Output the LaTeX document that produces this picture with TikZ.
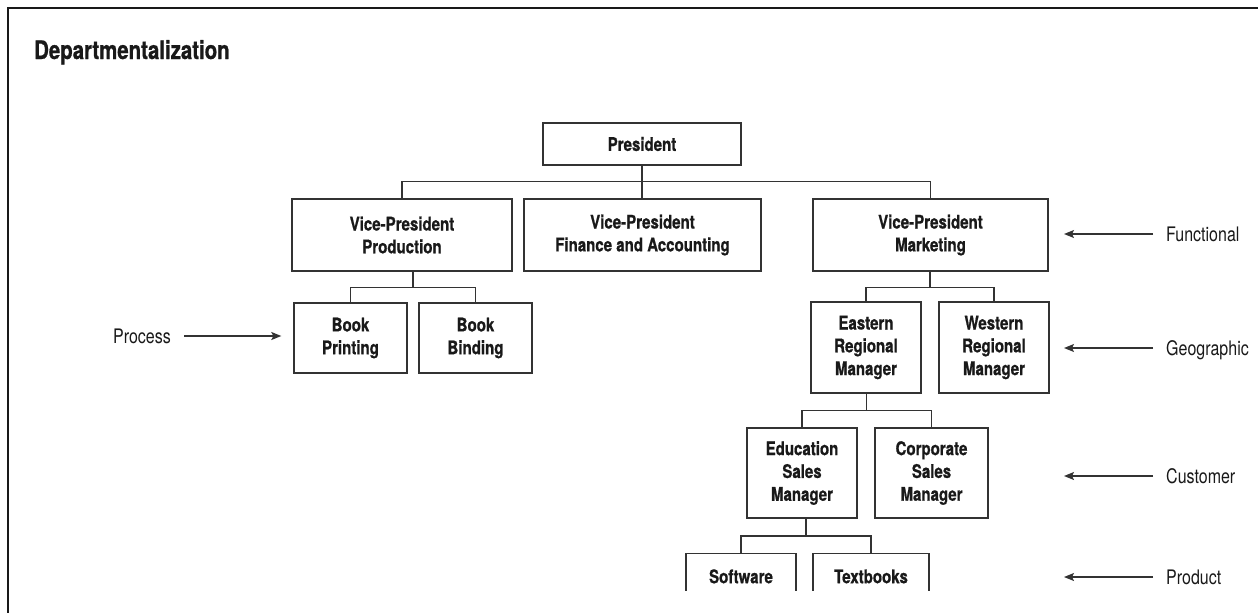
\documentclass[tikz,border=0pt]{standalone}
\usepackage{fontspec}
\setmainfont{TeX Gyre Heros}[FakeStretch=0.80, BoldFeatures={FakeBold=0.8}]
\usetikzlibrary{arrows.meta,calc}

\begin{document}
\begin{tikzpicture}[x=1pt, y=-1pt,
    box/.style={draw=black!80, line width=1.4pt, align=center, inner sep=0pt,
      text=black!90, font=\fontsize{18.8}{22.8}\selectfont\bfseries},
    link/.style={draw=black!80, line width=1.3pt},
    lab/.style={inner xsep=13pt, inner ysep=0pt, text height=14pt, text depth=0pt,
      text=black!90, font=\fontsize{20}{24}\selectfont},
    arr/.style={link, -{Stealth[length=10pt, width=8pt, inset=2pt]}}]

  \useasboundingbox (0,0) rectangle (1258,613);

  % Cadre
  \draw[line width=2.6pt, black!90] (1258,8) -- (8,8) -- (8,613);

  % Titre
  \node[anchor=base west, inner sep=0pt, text=black!90,
        font=\fontsize{25.5}{30}\selectfont\bfseries] (title) at (34,59) {Departmentalization};

  % Niveau 1 et 2
  \node[box, minimum width=198, minimum height=42] (pres) at (642,144) {President};
  \node[box, minimum width=220, minimum height=72] (vpprod) at (402,235) {Vice-President\\Production};
  \node[box, minimum width=237, minimum height=72] (vpfin) at (642.5,235) {Vice-President\\Finance and Accounting};
  \node[box, minimum width=235, minimum height=72] (vpmkt) at (930.5,235) {Vice-President\\Marketing};

  % Production
  \node[box, minimum width=113, minimum height=70] (print) at (350.5,338) {Book\\Printing};
  \node[box, minimum width=113, minimum height=70] (bind) at (475.5,338) {Book\\Binding};

  % Marketing
  \node[box, minimum width=110, minimum height=91] (east) at (866,347.5) {Eastern\\Regional\\Manager};
  \node[box, minimum width=110, minimum height=91] (west) at (994,347.5) {Western\\Regional\\Manager};
  \node[box, minimum width=110, minimum height=90] (edu) at (802,473) {Education\\Sales\\Manager};
  \node[box, minimum width=113, minimum height=90] (corp) at (931.5,473) {Corporate\\Sales\\Manager};

  % Produits (coupés en bas)
  \begin{scope}
    \clip (0,0) rectangle (1258,590);
    \node[box, anchor=north, minimum width=110, inner ysep=16pt, text height=13.5pt, text depth=0pt]
      (soft) at (741,553) {Software};
    \node[box, anchor=north, minimum width=116, inner ysep=16pt, text height=13.5pt, text depth=0pt]
      (textbooks) at (871,553) {Textbooks};
  \end{scope}

  % Liaisons
  \draw[link] (vpprod.north) |- ([yshift=-16pt]pres.south) -| (vpmkt.north);
  \draw[link] (pres.south) -- (pres.south |- vpfin.north);

  \coordinate (busprod) at ($(print.north)!.5!(bind.north)+(0,-15)$);
  \draw[link] (print.north) |- (busprod) -| (bind.north);
  \draw[link] (busprod) -- (busprod |- vpprod.south);

  \coordinate (busmkt) at ($(east.north)!.5!(west.north)+(0,-14)$);
  \draw[link] (east.north) |- (busmkt) -| (west.north);
  \draw[link] (busmkt) -- (busmkt |- vpmkt.south);

  \coordinate (buseast) at ($(edu.north)!.5!(corp.north)+(0,-17)$);
  \draw[link] (edu.north) |- (buseast) -| (corp.north);
  \draw[link] (buseast) -- (buseast |- east.south);

  \coordinate (busedu) at ($(soft.north)!.5!(textbooks.north)+(0,-17)$);
  \draw[link] (soft.north) |- (busedu) -| (textbooks.north);
  \draw[link] (busedu) -- (busedu |- edu.south);

  % Types de départementalisation
  \coordinate (tipcol) at (1064,0);
  \foreach \y/\name in {234/Functional, 348/Geographic, 476/Customer, 577/Product} {
    \node[lab, anchor=west] (\name) at (1153,\y) {\name};
    \draw[arr] (\name.west) -- (\name.west -| tipcol);
  }

  \node[lab, anchor=east] (process) at (184,336) {Process};
  \draw[arr, shorten >=12pt] (process.east) -- (process.east -| print.west);

\end{tikzpicture}
\end{document}
